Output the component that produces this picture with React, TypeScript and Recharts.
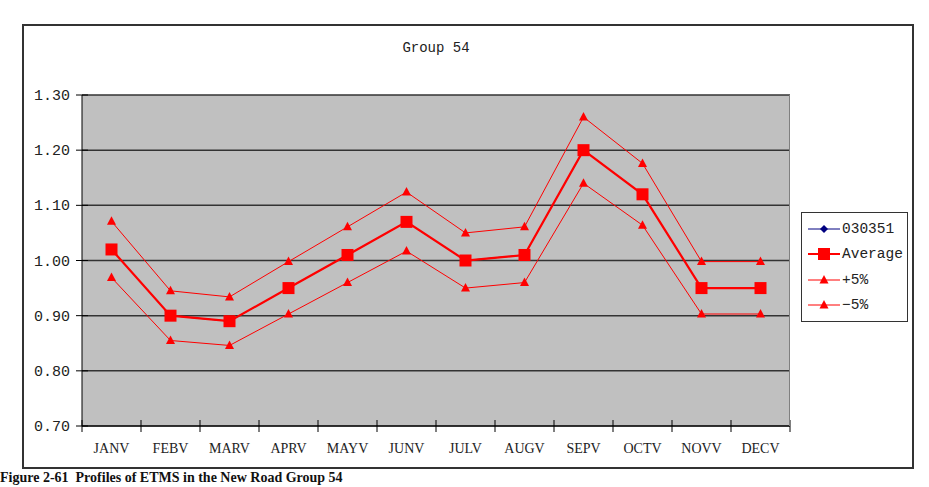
import { LineChart, Line, XAxis, YAxis, CartesianGrid } from 'recharts';

const months = ['JANV', 'FEBV', 'MARV', 'APRV', 'MAYV', 'JUNV', 'JULV', 'AUGV', 'SEPV', 'OCTV', 'NOVV', 'DECV'];
const station = [1.02, 0.9, 0.89, 0.95, 1.01, 1.07, 1.0, 1.01, 1.2, 1.12, 0.95, 0.95];
const average = [1.02, 0.9, 0.89, 0.95, 1.01, 1.07, 1.0, 1.01, 1.2, 1.12, 0.95, 0.95];
const plus5 = [1.071, 0.945, 0.934, 0.998, 1.061, 1.124, 1.05, 1.061, 1.26, 1.176, 0.998, 0.998];
const minus5 = [0.969, 0.855, 0.846, 0.903, 0.96, 1.017, 0.95, 0.96, 1.14, 1.064, 0.903, 0.903];
const yTicks = [0.7, 0.8, 0.9, 1.0, 1.1, 1.2, 1.3];

const data = months.map((m, i) => ({
  month: m,
  station: station[i],
  average: average[i],
  plus5: plus5[i],
  minus5: minus5[i],
}));

const RED = '#ff0000';
const NAVY = '#000080';

const Square = (props: any) => {
  const { cx, cy } = props;
  if (cx == null || cy == null) return null;
  return <rect x={cx - 6} y={cy - 6} width={12} height={12} fill={RED} />;
};

const Triangle = (props: any) => {
  const { cx, cy } = props;
  if (cx == null || cy == null) return null;
  return <path d={`M${cx},${cy - 5} L${cx + 4.5},${cy + 3.5} L${cx - 4.5},${cy + 3.5} Z`} fill={RED} />;
};

const Diamond = (props: any) => {
  const { cx, cy } = props;
  if (cx == null || cy == null) return null;
  return <path d={`M${cx},${cy - 4} L${cx + 4},${cy} L${cx},${cy + 4} L${cx - 4},${cy} Z`} fill={NAVY} />;
};

// Excel-style category axis: tick marks sit between categories, labels in the middle
const MonthTick = (props: any) => {
  const { x, y, payload, index } = props;
  const half = payload && payload.offset ? payload.offset : 29.5;
  const top = y - 12;
  return (
    <g>
      <line x1={x - half} y1={top} x2={x - half} y2={top + 12} stroke="#000" />
      {index === months.length - 1 && <line x1={x + half} y1={top} x2={x + half} y2={top + 12} stroke="#000" />}
      <text x={x} y={top + 33} textAnchor="middle" fontFamily='"Liberation Serif", serif' fontSize={14} fill="#222">
        {payload.value}
      </text>
    </g>
  );
};

const ValueTick = (props: any) => {
  const { x, y, payload } = props;
  return (
    <g>
      <line x1={x} y1={y} x2={x + 12} y2={y} stroke="#000" />
      <text x={x - 6} y={y + 5} textAnchor="end" fontFamily='"Liberation Mono", monospace' fontSize={15} fill="#222">
        {payload.value.toFixed(2)}
      </text>
    </g>
  );
};

const legendItems = [
  { label: '030351', color: NAVY, width: 1, mark: 'diamond' },
  { label: 'Average', color: RED, width: 2, mark: 'square' },
  { label: '+5%', color: RED, width: 1, mark: 'triangle' },
  { label: '\u22125%', color: RED, width: 1, mark: 'triangle' },
];

function LegendBox() {
  return (
    <div style={{ position: 'absolute', left: 801, top: 212, border: '1px solid #333', background: '#fff', width: 105, padding: '3px 0', fontFamily: '"Liberation Mono", monospace', fontSize: 14.5 }}>
      {legendItems.map((it) => (
        <div key={it.label} style={{ display: 'flex', alignItems: 'center', height: 25.5 }}>
          <svg width={40} height={16}>
            <line x1={6} y1={8} x2={38} y2={8} stroke={it.color} strokeWidth={it.width} />
            {it.mark === 'diamond' && <Diamond cx={22} cy={8} />}
            {it.mark === 'square' && <Square cx={22} cy={8} />}
            {it.mark === 'triangle' && <Triangle cx={22} cy={8} />}
          </svg>
          <span style={{ color: '#222' }}>{it.label}</span>
        </div>
      ))}
    </div>
  );
}

export default function App() {
  return (
    <div style={{ position: 'absolute', left: 0, top: 0, width: 929, height: 487, overflow: 'hidden', background: '#fff' }}>
      <div style={{ position: 'absolute', left: 22, top: 24, width: 888, height: 441, border: '2px solid #333' }} />
      <div style={{ position: 'absolute', left: 0, width: 872, top: 40, textAlign: 'center', fontFamily: '"Liberation Mono", monospace', fontSize: 14, color: '#222' }}>
        Group 54
      </div>
      <div style={{ position: 'absolute', left: 0, top: 0 }}>
        <LineChart width={929} height={487} data={data} margin={{ top: 95, right: 139, bottom: 21, left: 22 }}>
          <CartesianGrid vertical={false} fill="#c0c0c0" stroke="#333" strokeWidth={1.5} />
          <XAxis
            dataKey="month"
            scale="band"
            height={40}
            stroke="#000"
            tickLine={false}
            interval={0}
            tick={<MonthTick />}
            tickMargin={0}
          />
          <YAxis
            width={60}
            domain={[0.7, 1.3]}
            ticks={yTicks}
            stroke="#000"
            tickLine={false}
            tickSize={6}
            tick={<ValueTick />}
            tickMargin={0}
          />
          <Line dataKey="station" name="030351" stroke={NAVY} strokeWidth={1} dot={<Diamond />} isAnimationActive={false} />
          <Line dataKey="plus5" name="+5%" stroke={RED} strokeWidth={1} dot={<Triangle />} isAnimationActive={false} />
          <Line dataKey="minus5" name="-5%" stroke={RED} strokeWidth={1} dot={<Triangle />} isAnimationActive={false} />
          <Line dataKey="average" name="Average" stroke={RED} strokeWidth={2.2} dot={<Square />} isAnimationActive={false} />
        </LineChart>
      </div>
      <div style={{ position: 'absolute', left: 0, width: 789, top: 95, height: 331, borderRight: '1.5px solid #808080', pointerEvents: 'none' }} />
      <LegendBox />
      <div style={{ position: 'absolute', left: 0, top: 469, whiteSpace: 'nowrap', fontFamily: '"Liberation Serif", serif', fontWeight: 'bold', fontSize: 14, lineHeight: '17px', color: '#111' }}>
        Figure 2-61&nbsp;&nbsp;Profiles of ETMS in the New Road Group 54
      </div>
    </div>
  );
}
